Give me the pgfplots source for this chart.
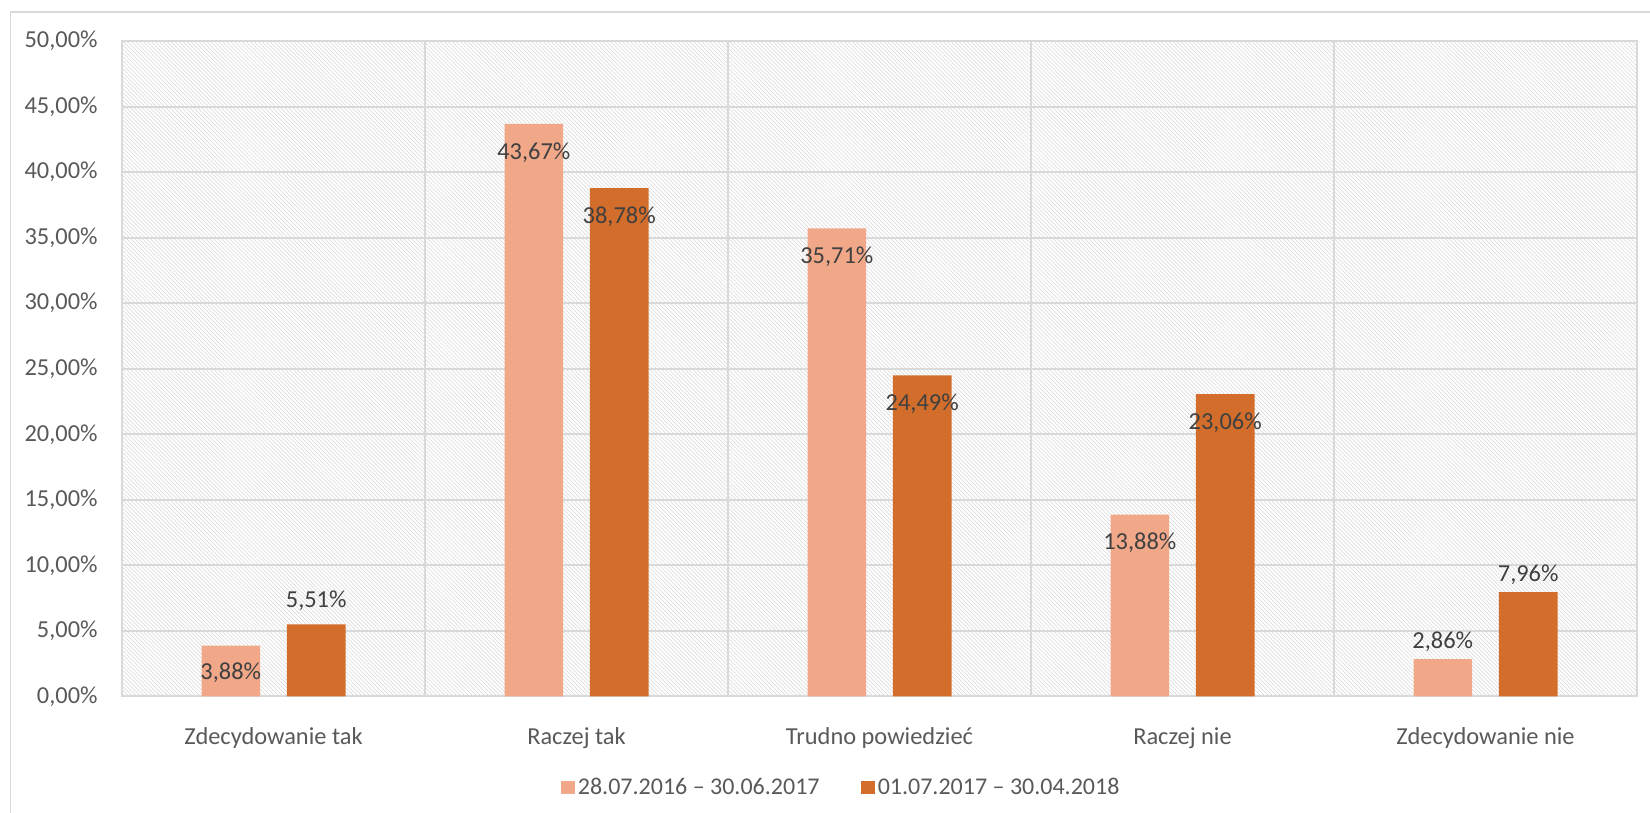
\documentclass[border=0pt]{standalone}
\usepackage{fontspec}
\setmainfont{Carlito}
\usepackage{pgfplots}
\pgfplotsset{compat=1.18}
\usepackage{pgfplotstable}
\usetikzlibrary{patterns.meta}

\definecolor{seriesA}{HTML}{F1A889}
\definecolor{seriesB}{HTML}{D26D2B}
\definecolor{gridgray}{HTML}{D9D9D9}
\definecolor{hatch}{HTML}{DCDCDC}
\definecolor{txt}{HTML}{595959}
\definecolor{lbltxt}{HTML}{404040}

% x, value, label, label offset (pt)
\pgfplotstableread{
x y lbl off
0 3.88 3,88\% -13.3
1 43.67 43,67\% -14.3
2 35.71 35,71\% -14.3
3 13.88 13,88\% -14.3
4 2.86 2,86\% 8.7
}\first
\pgfplotstableread{
x y lbl off
0 5.51 5,51\% 12
1 38.78 38,78\% -14.3
2 24.49 24,49\% -14.3
3 23.06 23,06\% -14.3
4 7.96 7,96\% 8.7
}\second

\begin{document}
\begin{tikzpicture}[font=\fontsize{12.2}{14}\selectfont]
\path[use as bounding box] (0,0) rectangle (825pt,406.5pt);
\begin{axis}[
  at={(61pt,58.25pt)}, anchor=south west,
  scale only axis, width=757.5pt, height=327.75pt,
  xmin=-0.5, xmax=4.5, ymin=0, ymax=50,
  ybar=13.4pt, bar width=29.3pt,
  xtick={0,...,4},
  xticklabels={Zdecydowanie tak, Raczej tak, Trudno powiedzieć, Raczej nie, Zdecydowanie nie},
  minor xtick={-0.5,0.5,...,4.5},
  xminorgrids, ymajorgrids,
  ytick={0,5,...,50},
  yticklabels={{0,00\%},{5,00\%},{10,00\%},{15,00\%},{20,00\%},{25,00\%},{30,00\%},{35,00\%},{40,00\%},{45,00\%},{50,00\%}},
  major grid style={gridgray, line width=1pt},
  minor grid style={gridgray, line width=1pt},
  major tick style={draw=none}, minor tick style={draw=none},
  axis line style={gridgray, line width=1pt},
  axis background/.style={pattern={Lines[angle=-45,distance=1.4pt,line width=0.35pt]}, pattern color=hatch},
  tick label style={text=txt, font=\fontsize{12.2}{14}\selectfont},
  yticklabel style={anchor=east, inner sep=0pt, xshift=-12pt},
  xticklabel style={anchor=base, inner sep=0pt, yshift=-19.6pt},
  point meta=explicit symbolic,
  nodes near coords,
  visualization depends on={\thisrow{off} \as \myoff},
  nodes near coords style={anchor=center, yshift=\myoff pt, text=lbltxt, inner sep=0pt, font=\fontsize{12.2}{14}\selectfont},
  legend style={at={(0.4751,-0.1388)}, anchor=center, draw=none, fill=none,
    legend columns=2, font=\fontsize{12}{14}\selectfont, text=txt,
    nodes={inner sep=1.6pt},
    /tikz/every even column/.append style={column sep=19pt}},
  legend image code/.code={\fill[#1] (0pt,-3.45pt) rectangle (6.9pt,3.45pt);},
]
\addplot[fill=seriesA, draw=none] table[x=x, y=y, meta=lbl] {\first};
\addlegendentry{28.07.2016 – 30.06.2017}
\addplot[fill=seriesB, draw=none] table[x=x, y=y, meta=lbl] {\second};
\addlegendentry{01.07.2017 – 30.04.2018}
\end{axis}
\draw[gridgray, line width=0.8pt] (5.3pt,0) -- (5.3pt,400.6pt) -- (825pt,400.6pt);
\end{tikzpicture}
\end{document}
